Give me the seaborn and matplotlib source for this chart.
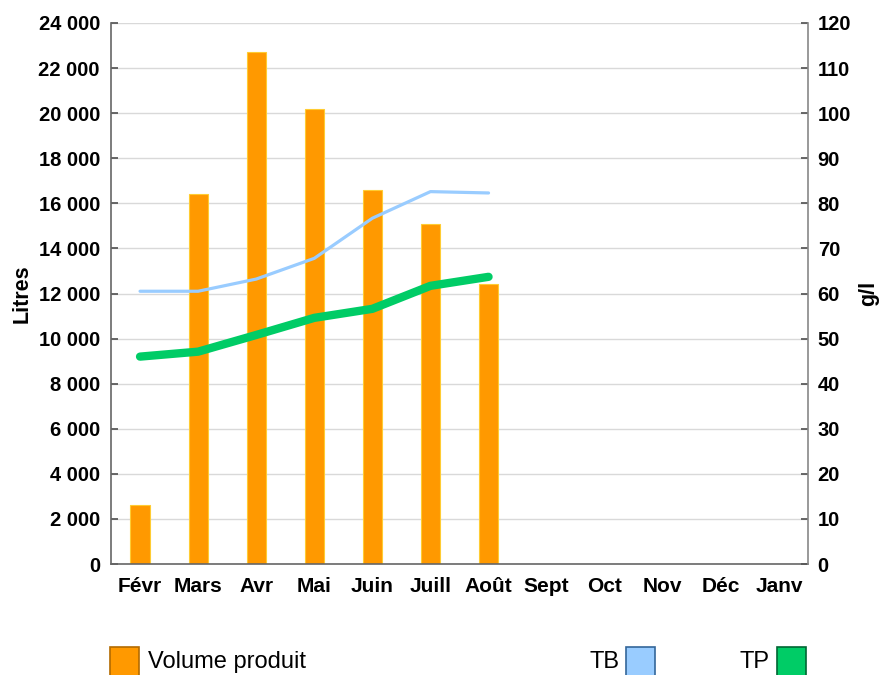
import numpy as np
import pandas as pd
import matplotlib
matplotlib.use("Agg")
import matplotlib.pyplot as plt
import matplotlib.patches as mpatches
from matplotlib.ticker import FuncFormatter, MultipleLocator
import seaborn as sns

# data
months = ["Févr", "Mars", "Avr", "Mai", "Juin", "Juill", "Août",
          "Sept", "Oct", "Nov", "Déc", "Janv"]
volume = [2600, 16400, 22700, 20200, 16600, 15100, 12400,
          np.nan, np.nan, np.nan, np.nan, np.nan]
tb = [60.5, 60.5, 63.2, 67.8, 76.7, 82.6, 82.3]
tp = [46.0, 47.1, 50.8, 54.6, 56.6, 61.7, 63.7]

df_vol = pd.DataFrame({"mois": months, "volume": volume})
df_lines = pd.DataFrame({"mois": months[:len(tb)], "TB": tb, "TP": tp})

sns.set_theme(style="white")
plt.rcParams["font.family"] = ["Liberation Sans", "DejaVu Sans"]
plt.rcParams["text.color"] = "black"
plt.rcParams["axes.labelcolor"] = "black"
plt.rcParams["xtick.color"] = "black"
plt.rcParams["ytick.color"] = "black"

orange = "#FF9900"
blue = "#99CCFF"
green = "#00CC66"

fig = plt.figure(figsize=(8.83, 6.75), dpi=100)
ax = fig.add_axes([111 / 883, 111 / 675, 697 / 883, 541 / 675])

sns.barplot(data=df_vol, x="mois", y="volume", order=months, color=orange,
            width=0.33, edgecolor="#FFCC33", linewidth=0.8, saturation=1,
            ax=ax, zorder=2)
ax.set_xlim(-0.5, len(months) - 0.5)
ax.set_ylim(0, 24000)
ax.yaxis.set_major_locator(MultipleLocator(2000))
ax.yaxis.set_major_formatter(FuncFormatter(lambda v, p: f"{int(v):,}".replace(",", " ")))
ax.grid(axis="y", color="#d9d9d9", linewidth=1, zorder=0)
ax.set_axisbelow(True)
ax.set_xlabel("")
ax.set_ylabel("Litres", fontsize=15.5, fontweight="bold", labelpad=4)

ax.set_xticks(range(len(months)))
ax.set_xticklabels(months, fontsize=15, fontweight="bold")
ax.set_xticks(np.arange(0.5, len(months) - 0.5, 1), minor=True)
ax.tick_params(axis="x", which="major", length=0, pad=9)
ax.tick_params(axis="x", which="minor", direction="in", length=5,
               color="#555555", width=1)
ax.tick_params(axis="y", direction="in", length=5, color="#555555",
               labelcolor="black", labelsize=14.5, pad=8)
for lab in ax.get_yticklabels():
    lab.set_fontweight("bold")

for side in ["left", "bottom"]:
    ax.spines[side].set_color("#666666")
    ax.spines[side].set_linewidth(1.2)
ax.spines["top"].set_visible(False)
ax.spines["right"].set_visible(False)

ax2 = ax.twinx()
sns.lineplot(data=df_lines, x="mois", y="TB", color=blue, linewidth=2.3,
             ax=ax2, sort=False)
sns.lineplot(data=df_lines, x="mois", y="TP", color=green, linewidth=6,
             ax=ax2, sort=False)
ax2.set_xlim(-0.5, len(months) - 0.5)
ax2.set_ylim(0, 120)
ax2.yaxis.set_major_locator(MultipleLocator(10))
ax2.set_ylabel("g/l", fontsize=15.5, fontweight="bold", labelpad=5)
ax2.tick_params(axis="y", direction="in", length=5, color="#555555",
                labelcolor="black", labelsize=14.5, pad=7)
for lab in ax2.get_yticklabels():
    lab.set_fontweight("bold")
ax2.spines["right"].set_color("#888888")
ax2.spines["right"].set_linewidth(1.2)
for side in ["top", "left", "bottom"]:
    ax2.spines[side].set_visible(False)
ax2.grid(False)

# legend drawn by hand like the original layout
def box(x, color, edge):
    fig.patches.append(mpatches.Rectangle((x / 883, -2 / 675), 29 / 883, 30 / 675,
                                          transform=fig.transFigure,
                                          facecolor=color, edgecolor=edge,
                                          linewidth=1.2))

box(110, orange, "#B36B00")
fig.text(148 / 883, 2 / 675, "Volume produit", fontsize=17, va="bottom")
box(626, blue, "#336699")
fig.text(619 / 883, 2 / 675, "TB", fontsize=17, va="bottom", ha="right")
box(777, green, "#006633")
fig.text(770 / 883, 2 / 675, "TP", fontsize=17, va="bottom", ha="right")

fig.savefig("out.png", dpi=100)
